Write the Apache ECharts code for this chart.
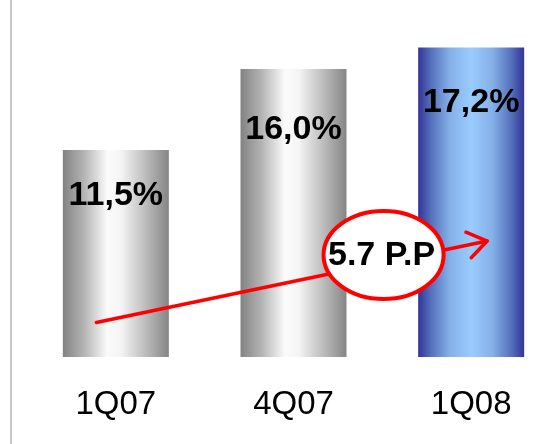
<!DOCTYPE html>
<html>
<head>
<meta charset="utf-8">
<script src="https://cdn.jsdelivr.net/npm/echarts@6/dist/echarts.min.js"></script>
<style>
html,body{margin:0;padding:0;background:#fff;}
#c{width:551px;height:444px;}
</style>
</head>
<body>
<div id="c"></div>
<script>
// ---- data ----
const categories = ['1Q07', '4Q07', '1Q08'];
const values = [11.5, 16.0, 17.2];
const highlightIndex = 2;
// arrow annotation in data space: [category position, value]
const arrowFrom = [-0.11, 1.92];
const arrowTo = [2.09, 6.44];
// callout centre in data space and its text
const calloutAt = [1.507, 5.67];
const calloutText = '5.7 P.P';

const FONT = '"Liberation Sans", Arial, sans-serif';

function grad(stops) {
  return new echarts.graphic.LinearGradient(0, 0, 1, 0,
    stops.map(s => ({ offset: s[0], color: s[1] })));
}
const grayFill = grad([[0, '#828282'], [0.2, '#b4b4b4'], [0.42, '#fbfbfb'], [0.55, '#f4f4f4'], [0.75, '#c4c4c4'], [1, '#858585']]);
const blueFill = grad([[0, '#333399'], [0.12, '#5470bb'], [0.3, '#86b0e8'], [0.5, '#99ccff'], [0.7, '#86b0e8'], [0.88, '#5470bb'], [1, '#333399']]);

const labelDrop = [46, 61, 55];

const chart = echarts.init(document.getElementById('c'), null, { renderer: 'canvas' });
chart.setOption({
  animation: false,
  backgroundColor: '#ffffff',
  grid: { left: 27, right: -9, top: 15, bottom: 87, outerBoundsMode: 'none', containLabel: false },
  xAxis: [
    {
      type: 'category', data: categories,
      axisLine: { show: false }, axisTick: { show: false },
      axisLabel: { color: '#000', fontFamily: FONT, fontSize: 33, margin: 48, verticalAlign: 'middle' }
    },
    { type: 'value', min: -0.5, max: 2.5, show: false }
  ],
  yAxis: { type: 'value', min: 0, max: 19, show: false, splitLine: { show: false } },
  graphic: [{
    type: 'line', z: 0,
    shape: { x1: 11, y1: 0, x2: 11, y2: 444 },
    style: { stroke: '#c8c8c8', lineWidth: 2 }
  }],
  series: [
    {
      type: 'bar', barWidth: 106, z: 2,
      data: values.map((v, i) => ({
        value: v,
        itemStyle: { color: i === highlightIndex ? blueFill : grayFill },
        label: { position: ['50%', labelDrop[i]] }
      })),
      label: {
        show: true, align: 'center', verticalAlign: 'middle',
        color: '#000', fontFamily: FONT, fontSize: 34, fontWeight: 'bold',
        formatter: p => p.value.toFixed(1).replace('.', ',') + '%'
      }
    },
    {
      type: 'custom', xAxisIndex: 1, yAxisIndex: 0, z: 5,
      data: [[arrowFrom[0], arrowFrom[1], arrowTo[0], arrowTo[1]]],
      renderItem: function (params, api) {
        const a = api.coord([api.value(0), api.value(1)]);
        const b = api.coord([api.value(2), api.value(3)]);
        const ang = Math.atan2(b[1] - a[1], b[0] - a[0]);
        const len = 23, spread = 0.6;
        const p1 = [b[0] - len * Math.cos(ang - spread), b[1] - len * Math.sin(ang - spread)];
        const p2 = [b[0] - len * Math.cos(ang + spread), b[1] - len * Math.sin(ang + spread)];
        const st = { stroke: '#ff0000', lineWidth: 3.5, lineCap: 'round', lineJoin: 'round', fill: null };
        return {
          type: 'group',
          children: [
            { type: 'line', shape: { x1: a[0], y1: a[1], x2: b[0], y2: b[1] }, style: st },
            { type: 'polyline', shape: { points: [p1, b, p2] }, style: st }
          ]
        };
      }
    },
    {
      type: 'custom', xAxisIndex: 1, yAxisIndex: 0, z: 6,
      data: [[calloutAt[0], calloutAt[1]]],
      renderItem: function (params, api) {
        const c = api.coord([api.value(0), api.value(1)]);
        return {
          type: 'group',
          children: [
            { type: 'ellipse', shape: { cx: c[0], cy: c[1], rx: 60, ry: 44 },
              style: { fill: '#ffffff', stroke: '#ff0000', lineWidth: 4 } },
            { type: 'text', x: c[0] - 2, y: c[1] + 1,
              style: { text: calloutText, fill: '#000', font: 'bold 34px ' + FONT,
                       align: 'center', verticalAlign: 'middle' } }
          ]
        };
      }
    }
  ]
});
</script>
</body>
</html>
